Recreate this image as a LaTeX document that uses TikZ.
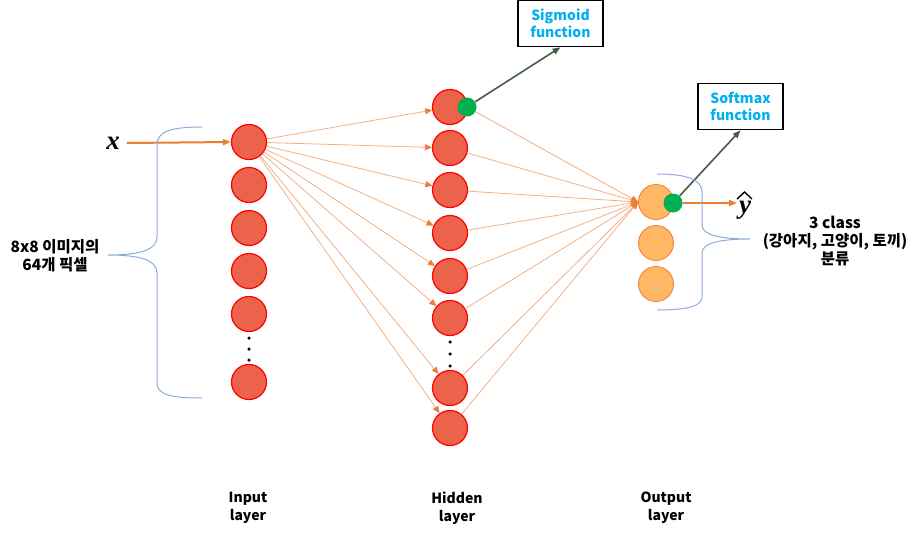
\documentclass[tikz,border=0pt]{standalone}
\usepackage{fontspec}
\setmainfont{Noto Sans CJK KR}
\newfontfamily\xfont{Liberation Serif}
\usetikzlibrary{arrows.meta}
\definecolor{nodefill}{RGB}{235,99,74}
\definecolor{nodeedge}{RGB}{255,0,0}
\definecolor{outfill}{RGB}{255,183,102}
\definecolor{outedge}{RGB}{237,125,49}
\definecolor{gdot}{RGB}{0,176,80}
\definecolor{conn}{RGB}{244,177,131}
\definecolor{tipc}{RGB}{237,125,49}
\definecolor{darkarrow}{RGB}{67,94,67}
\definecolor{bracec}{RGB}{143,170,220}
\definecolor{boxtext}{RGB}{0,176,240}
\tikzset{
  neuron/.style={circle,minimum size=35pt,inner sep=0pt,fill=nodefill,draw=nodeedge,line width=1.2pt},
  outneuron/.style={circle,minimum size=35pt,inner sep=0pt,fill=outfill,draw=outedge,line width=0.8pt},
  gnode/.style={circle,minimum size=19pt,inner sep=0pt,fill=gdot},
  link/.style={draw=conn,line width=0.8pt,-{Triangle[length=7pt,width=6pt,fill=tipc,color=tipc]}},
  darrow/.style={draw=darkarrow,line width=1.6pt,-{Triangle[length=8pt,width=6pt]}},
  oarrow/.style={draw=tipc,line width=2pt,-{Triangle[length=8pt,width=6pt]}},
  fbox/.style={draw=black,line width=1.5pt,fill=white,minimum width=85pt,minimum height=46pt,inner sep=2pt,align=center,text=boxtext,font=\bfseries\fontsize{14}{17}\selectfont},
  lbl/.style={align=center,font=\bfseries\fontsize{14}{18}\selectfont},
  krlbl/.style={align=center,font=\bfseries\fontsize{15.5}{18}\selectfont},
  brace/.style={draw=bracec,line width=1pt},
  vdot/.style={circle,fill=black,minimum size=3.5pt,inner sep=0pt},
  varlbl/.style={inner sep=0pt,font=\xfont\bfseries\itshape\fontsize{27}{27}\selectfont}
}
\begin{document}
\begin{tikzpicture}[x=1pt,y=-1pt]
\useasboundingbox[fill=white] (0,0) rectangle (920,535);
% input layer
\node[neuron] (i1) at (249,142) {};
\node[neuron] (i2) at (249,185) {};
\node[neuron] (i3) at (249,228) {};
\node[neuron] (i4) at (249,271) {};
\node[neuron] (i5) at (249,314) {};
\node[neuron] (i6) at (249,382) {};
\node[vdot] (idot1) at (249,338) {};
\node[vdot] (idot2) at (249,349) {};
\node[vdot] (idot3) at (249,360) {};
% hidden layer
\node[neuron] (h1) at (450,107) {};
\node[neuron] (h2) at (450,148) {};
\node[neuron] (h3) at (450,190) {};
\node[neuron] (h4) at (450,233) {};
\node[neuron] (h5) at (450,276) {};
\node[neuron] (h6) at (450,318) {};
\node[neuron] (h7) at (450,388) {};
\node[neuron] (h8) at (450,428) {};
\node[vdot] (hdot1) at (450,342) {};
\node[vdot] (hdot2) at (450,354) {};
\node[vdot] (hdot3) at (450,366) {};
% output layer
\node[outneuron] (o1) at (656,202) {};
\node[outneuron] (o2) at (656,243) {};
\node[outneuron] (o3) at (656,284) {};
% input -> hidden
\foreach \k in {1,...,8} { \draw[link] (i1) -- (h\k); }
% hidden -> output
\node[gnode] (g1) at (467,107) {};
\foreach \k in {2,...,8} { \draw[link] (h\k) -- (o1.west); }
\draw[link] (g1) -- (o1.west);
\node[gnode] (g2) at (673,203) {};
% function boxes
\node[fbox] (sig) at (560.5,23.5) {Sigmoid\\function};
\node[fbox] (soft) at (740.5,106.5) {Softmax\\function};
\draw[darrow] (g1) -- (sig.south);
\draw[darrow] (g2) -- (soft.south);
% x input
\node[varlbl] (xin) at (113,143) {x};
\draw[oarrow] (xin.east) ++(7,0) coordinate (xs) -- (i1.west);
% y hat
\node[varlbl] (yhat) at (745,210) {y};
\draw[line width=1.4pt,line join=miter] (737,199) -- (744.5,192) -- (752,199);
\draw[oarrow] (g2.east) -- (737,203);
% braces
\draw[brace] (202,127) .. controls (172,127) and (157,131) .. (157,145) -- (157,237) .. controls (157,250) and (140,255) .. (108,255) .. controls (140,255) and (157,260) .. (157,273) -- (157,383) .. controls (157,395) and (172,398) .. (202,398);
\draw[brace] (657,174) .. controls (688,174) and (702,180) .. (702,192) -- (702,225) .. controls (702,235) and (720,239) .. (750,239) .. controls (720,239) and (702,243) .. (702,253) -- (702,297) .. controls (702,306) and (688,310) .. (657,310);
% labels
\node[krlbl] (lin) at (55,256) {8x8 이미지의\\64개 픽셀};
\node[krlbl] (lout) at (835,241) {3 class\\(강아지, 고양이, 토끼)\\분류};
\node[lbl] (linput) at (248,508) {Input\\layer};
\node[lbl] (lhidden) at (457,508) {Hidden\\layer};
\node[lbl] (loutput) at (666,508) {Output\\layer};
\end{tikzpicture}
\end{document}
